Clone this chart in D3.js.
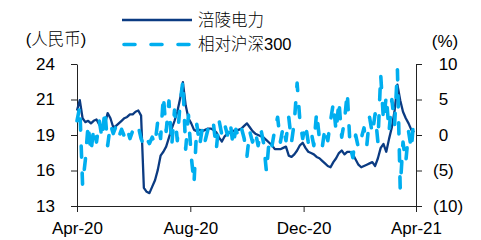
<!DOCTYPE html>
<html><head><meta charset="utf-8">
<script src="https://cdn.jsdelivr.net/npm/d3@7/dist/d3.min.js"></script>
<style>
html,body{margin:0;padding:0;background:#fff;}
svg{display:block;}
text{font-family:"Liberation Sans",Arial,"Noto Sans CJK SC",sans-serif;}
.cjk{font-weight:300;}
</style></head>
<body>
<svg id="c" width="481" height="240"></svg>
<script>
const dates = ["2020-04-01","2020-04-04","2020-04-07","2020-04-10","2020-04-13","2020-04-16","2020-04-19","2020-04-22","2020-04-25","2020-04-28",
"2020-05-01","2020-05-04","2020-05-07","2020-05-10","2020-05-13","2020-05-16","2020-05-19","2020-05-22","2020-05-25","2020-05-28",
"2020-05-31","2020-06-03","2020-06-06","2020-06-09","2020-06-12","2020-06-15","2020-06-18","2020-06-21","2020-06-24","2020-06-27",
"2020-06-30","2020-07-03","2020-07-06","2020-07-09","2020-07-12","2020-07-15","2020-07-18","2020-07-21","2020-07-24","2020-07-27",
"2020-07-30","2020-08-02","2020-08-05","2020-08-08","2020-08-11","2020-08-14","2020-08-17","2020-08-20","2020-08-23","2020-08-26",
"2020-08-29","2020-09-01","2020-09-04","2020-09-07","2020-09-10","2020-09-13","2020-09-16","2020-09-19","2020-09-22","2020-09-25",
"2020-09-28","2020-10-01","2020-10-04","2020-10-07","2020-10-10","2020-10-13","2020-10-16","2020-10-19","2020-10-22","2020-10-25",
"2020-10-28","2020-10-31","2020-11-03","2020-11-06","2020-11-09","2020-11-12","2020-11-15","2020-11-18","2020-11-21","2020-11-24",
"2020-11-27","2020-11-30","2020-12-03","2020-12-06","2020-12-09","2020-12-12","2020-12-15","2020-12-18","2020-12-21","2020-12-24",
"2020-12-27","2020-12-30","2021-01-02","2021-01-05","2021-01-08","2021-01-11","2021-01-14","2021-01-17","2021-01-20","2021-01-23",
"2021-01-26","2021-01-29","2021-02-01","2021-02-04","2021-02-07","2021-02-10","2021-02-13","2021-02-16","2021-02-19","2021-02-22",
"2021-02-25","2021-02-28","2021-03-03","2021-03-06","2021-03-09","2021-03-12","2021-03-15","2021-03-18","2021-03-21","2021-03-24",
"2021-03-27","2021-03-30"];

// 涪陵电力 share price (RMB, left axis)
const stockPrice = [20.4,21.2,19.8,19.5,19.6,19.4,19.6,19.7,19.3,19.1,
 19.3,20.2,19.8,19.1,19.2,19.4,19.6,19.8,19.9,20.1,
 20.1,20.3,20.4,20.0,14.4,14.1,14.0,14.5,15.0,15.8,
 16.9,17.2,17.6,18.3,19.0,19.6,20.3,21.3,22.6,20.8,
 19.8,19.4,18.9,18.8,18.9,18.8,18.9,19.0,19.0,18.9,
 18.7,18.3,18.0,18.4,18.6,18.7,18.8,18.9,18.9,19.0,
 19.2,19.4,19.1,18.8,18.6,18.5,18.4,18.3,18.1,17.9,
 17.7,17.4,17.4,17.4,17.5,17.6,16.9,16.8,17.0,17.3,
 17.7,17.9,17.5,17.2,17.1,17.0,16.8,16.7,16.5,16.3,
 16.1,16.0,16.4,16.7,17.1,17.3,17.0,17.2,17.2,17.0,
 16.6,16.2,16.0,16.1,16.2,16.3,16.4,16.1,16.7,17.5,
 17.8,17.2,18.2,19.1,20.4,22.4,21.2,20.3,19.8,19.4,
 18.9,18.7];

// 相对沪深300 relative performance (%, right axis)
const relativeCSI300 = [2.0,4.0,-7.0,-3.5,1.5,-2.5,1.0,-1.0,2.0,-0.5,
 3.5,-1.5,1.5,0.2,1.2,-0.3,0.8,-0.2,0.9,-0.5,
 0.6,0.3,1.2,-0.5,-1.5,-0.5,-1.2,-0.3,-1.3,2.0,
 -0.5,5.5,0.5,4.8,-1.5,3.5,-0.8,4.5,7.6,-2.0,
 2.8,-3.0,-6.8,1.5,-1.5,1.0,-0.8,0.8,0.2,1.5,
 -2.0,2.0,0.0,1.5,0.0,1.8,-1.5,0.8,-0.3,1.0,
 -0.5,-3.0,0.5,-1.0,0.5,-1.5,0.8,-1.2,-5.2,-0.5,
 -1.5,0.8,2.5,-1.0,1.2,-0.8,2.5,-1.0,1.8,7.3,
 2.0,-0.5,1.5,-1.0,0.5,-1.5,3.2,-0.5,-1.8,1.0,
 -0.8,2.0,4.5,0.5,4.8,-0.3,2.0,6.0,-1.5,-3.2,
 0.0,-1.8,-0.5,1.0,-1.5,2.5,0.2,3.0,-1.0,8.5,
 2.0,5.5,0.5,5.0,1.5,9.2,-7.5,-1.0,-3.8,0.5,
 -2.0,3.0];

const xTickDates = ["2020-04-01","2020-08-01","2020-12-01","2021-04-01"];
const xTickLabels = ["Apr-20","Aug-20","Dec-20","Apr-21"];
const leftTickValues = [13,15.75,18.5,21.25,24];
const leftTickLabels = ["13","16","19","21","24"];
const rightTickValues = [-10,-5,0,5,10];
const rightTickLabels = ["(10)","(5)","0","5","10"];
const seriesNames = ["涪陵电力","相对沪深300"];
const leftUnit = "(人民币)";
const rightUnit = "(%)";

const parse = d3.timeParse("%Y-%m-%d");
const svg = d3.select("#c");
const L = 77, R = 416, T = 64, B = 206;
const darkColor = "#0B3B82", lightColor = "#00AEEF";

const x = d3.scaleTime().domain([parse("2020-04-01"), parse("2021-04-01")]).range([L, R]);
const yL = d3.scaleLinear().domain([13,24]).range([B, T]);
const yR = d3.scaleLinear().domain([-10,10]).range([B, T]);

const fs = 17;
function styleAxis(g){
  g.selectAll("path.domain").attr("stroke","#222").attr("stroke-width",1);
  g.selectAll(".tick line").attr("stroke","#222").attr("stroke-width",1);
  g.selectAll("text").attr("font-size",fs).attr("fill","#000")
   .attr("font-family",'"Liberation Sans",Arial,sans-serif');
}

// left axis
svg.append("g").attr("transform",`translate(${L},0)`)
  .call(d3.axisLeft(yL).tickValues(leftTickValues).tickFormat((d,i)=>leftTickLabels[i]).tickSize(6).tickSizeOuter(0).tickPadding(16))
  .call(styleAxis);

// right axis
const gR = svg.append("g").attr("transform",`translate(${R},0)`)
  .call(d3.axisRight(yR).tickValues(rightTickValues).tickFormat((d,i)=>rightTickLabels[i]).tickSize(6).tickSizeOuter(0).tickPadding(11))
  .call(styleAxis);
const parenW = 0.333*fs;
gR.selectAll(".tick text").attr("x",d=> d>=0 ? 17+parenW : 17);

// bottom axis
svg.append("g").attr("transform",`translate(0,${B})`)
  .call(d3.axisBottom(x).tickValues(xTickDates.map(parse)).tickFormat((d,i)=>xTickLabels[i]).tickSize(6).tickSizeOuter(0).tickPadding(10.4))
  .call(styleAxis);

// series
const stockData = dates.map((d,i)=>({date:parse(d), v:stockPrice[i]}));
const relData = dates.map((d,i)=>({date:parse(d), v:relativeCSI300[i]}));

svg.append("path").datum(stockData)
  .attr("fill","none").attr("stroke",darkColor).attr("stroke-width",2.3).attr("stroke-linejoin","round")
  .attr("d", d3.line().x(d=>x(d.date)).y(d=>yL(d.v)));

svg.append("path").datum(relData)
  .attr("fill","none").attr("stroke",lightColor).attr("stroke-width",3.6)
  .attr("stroke-dasharray","11,16").attr("stroke-linecap","round").attr("stroke-linejoin","round")
  .attr("d", d3.line().x(d=>x(d.date)).y(d=>yR(d.v)));

// legend
const lg = svg.append("g");
lg.append("line").attr("x1",122).attr("x2",192).attr("y1",20).attr("y2",20)
  .attr("stroke",darkColor).attr("stroke-width",2.3);
lg.append("line").attr("x1",124).attr("x2",192).attr("y1",44.5).attr("y2",44.5)
  .attr("stroke",lightColor).attr("stroke-width",3.6).attr("stroke-dasharray","11,16").attr("stroke-linecap","round");
lg.append("text").attr("class","cjk").attr("x",198).attr("y",20).attr("dy","0.36em").attr("font-size",16.5).text(seriesNames[0]);
lg.append("text").attr("class","cjk").attr("x",198).attr("y",44.5).attr("dy","0.36em").attr("font-size",16.5).text(seriesNames[1]);

// unit labels
svg.append("text").attr("class","cjk").attr("x",56).attr("y",39).attr("dy","0.36em").attr("text-anchor","middle").attr("font-size",16.5).text(leftUnit);
svg.append("text").attr("x",445).attr("y",41).attr("dy","0.36em").attr("text-anchor","middle").attr("font-size",fs).text(rightUnit);
</script>
</body></html>
